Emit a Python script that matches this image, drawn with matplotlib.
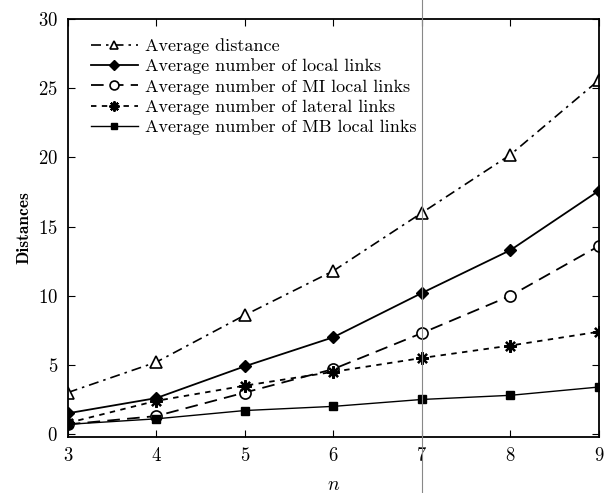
#!/usr/bin/env python3
"""Distances vs n for the five link statistics (recreated from a scanned figure)."""

import matplotlib
matplotlib.use("Agg")
import matplotlib.pyplot as plt
from matplotlib.lines import Line2D

n = [3, 4, 5, 6, 7, 8, 9]
avg_distance = [3.0, 5.2, 8.6, 11.8, 16.0, 20.2, 25.6]
local_links = [1.5, 2.6, 4.9, 7.0, 10.2, 13.3, 17.6]
mi_local_links = [0.7, 1.3, 3.0, 4.7, 7.3, 10.0, 13.6]
lateral_links = [0.8, 2.4, 3.5, 4.5, 5.5, 6.4, 7.4]
mb_local_links = [0.7, 1.1, 1.7, 2.0, 2.5, 2.8, 3.4]

plt.rcParams["font.family"] = ["cmr10", "DejaVu Serif"]
plt.rcParams["mathtext.fontset"] = "cm"
plt.rcParams["axes.formatter.use_mathtext"] = True

fig = plt.figure(figsize=(6.05, 4.93), dpi=100)
ax = fig.add_axes([0.112, 0.114, 0.878, 0.847])

ax.plot(n, avg_distance, color="black", lw=1.2, ls=(0, (6, 3, 1.5, 3)),
        marker="^", ms=8, mfc="white", mec="black", mew=1.2,
        label="Average distance")
ax.plot(n, local_links, color="black", lw=1.3, ls="-",
        marker="D", ms=6, mfc="black", mec="black",
        label="Average number of local links")
ax.plot(n, mi_local_links, color="black", lw=1.3, ls=(0, (7, 4)),
        marker="o", ms=8, mfc="white", mec="black", mew=1.2,
        label="Average number of MI local links")
ax.plot(n, lateral_links, color="black", lw=1.3, ls=(0, (3, 3)),
        marker=(8, 2, 0), ms=9, mec="black", mew=1.6,
        label="Average number of lateral links")
ax.plot(n, mb_local_links, color="black", lw=1.0, ls="-",
        marker="s", ms=6, mfc="black", mec="black",
        label="Average number of MB local links")

ax.set_xlim(3, 9)
ax.set_ylim(-0.2, 30)
ax.set_xticks(n)
ax.set_yticks([0, 5, 10, 15, 20, 25, 30])
ax.tick_params(direction="in", top=True, right=True, labelsize=13.5, length=5, pad=7)
for s in ax.spines.values():
    s.set_linewidth(1.3)

ax.set_xlabel("$n$", fontsize=14, labelpad=8)
ax.set_ylabel("Distances", fontsize=12.5, family="cmb10", labelpad=5)

ax.legend(loc="upper left", bbox_to_anchor=(0.02, 0.985), frameon=False,
          fontsize=13, handlelength=2.6, handletextpad=0.4, markerscale=0.8,
          labelspacing=0.25, borderaxespad=0.3)

# thin gray scan line through the page
x7 = ax.transData.transform((7, 0))[0] / fig.bbox.width
fig.add_artist(Line2D([x7, x7], [0, 1], transform=fig.transFigure,
                      color="#888888", lw=0.8))

fig.savefig("out.png", dpi=100)
